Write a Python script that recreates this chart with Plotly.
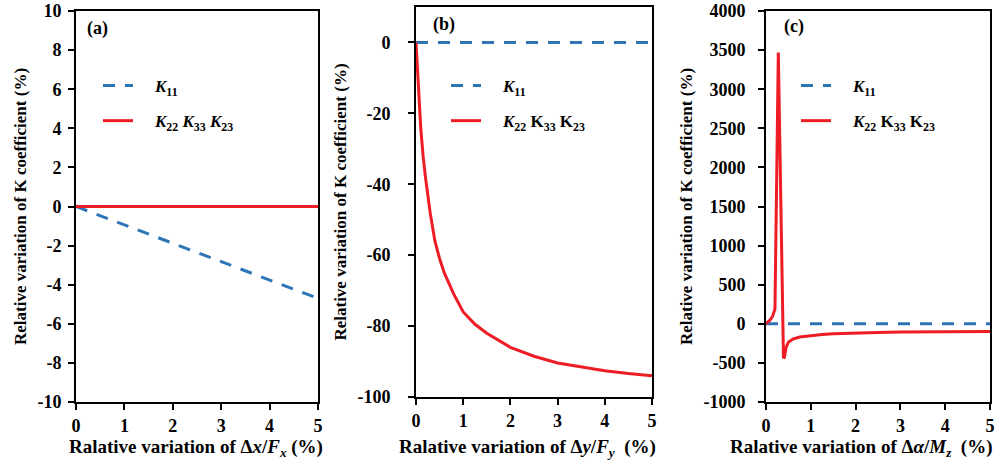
import plotly.graph_objects as go

# ---------------- data ----------------
x_a = [0, 1, 2, 3, 4, 5]
k11_a = [0, -0.94, -1.88, -2.82, -3.76, -4.7]
k22_a = [0, 0, 0, 0, 0, 0]

x_b_k11 = [0, 5]
k11_b = [0, 0]
x_b = [0, 0.05, 0.1, 0.15, 0.2, 0.3, 0.4, 0.5, 0.6, 0.8, 1.0, 1.25, 1.5, 2.0, 2.5, 3.0, 3.5, 4.0, 4.5, 5.0]
k22_b = [0, -13, -24, -32, -38, -48, -56, -61, -65, -71, -76, -79.5, -82, -86, -88.5, -90.4, -91.6, -92.6, -93.4, -94]

x_c_k11 = [0, 5]
k11_c = [0, 0]
x_c = [0, 0.05, 0.1, 0.15, 0.18, 0.2, 0.275, 0.39, 0.41, 0.45, 0.5, 0.6, 0.75, 1.0, 1.25, 1.5, 2.0, 2.5, 3.0, 3.5, 4.0, 4.5, 5.0]
k22_c = [0, 25, 55, 100, 150, 190, 3470, -440, -430, -300, -235, -195, -170, -150, -138, -128, -117, -110, -106, -103, -101, -99, -97]

x_ticks = [0, 1, 2, 3, 4, 5]
y_ticks_a = [-10, -8, -6, -4, -2, 0, 2, 4, 6, 8, 10]
y_ticks_b = [-100, -80, -60, -40, -20, 0]
y_ticks_c = [-1000, -500, 0, 500, 1000, 1500, 2000, 2500, 3000, 3500, 4000]
panel_labels = ["(a)", "(b)", "(c)"]

PAD = "\u3000"
name_k11 = PAD + "<i>K</i><sub>11</sub>"
name_k22_a = PAD + "<i>K</i><sub>22</sub> <i>K</i><sub>33</sub> <i>K</i><sub>23</sub>"
name_k22_bc = PAD + "<i>K</i><sub>22</sub> K<sub>33</sub> K<sub>23</sub>"

x_titles = [
    "Ralative variation of Δ<i>x</i>/<i>F<sub>x</sub></i> (%)",
    "Ralative variation of Δ<i>y</i>/<i>F<sub>y</sub></i> &nbsp;(%)",
    "Ralative variation of Δ<i>α</i>/<i>M<sub>z</sub></i> &nbsp;(%)",
]
y_title = "Relative variation of K coefficient (%)"

# ---------------- style ----------------
BLUE = "#2E75B6"
RED = "#EE1C25"
FONT = "Liberation Serif"
W, H = 997, 464

def f(size):
    return dict(family=FONT, size=size, color="black", weight="bold")

fig = go.Figure()

def add_panel(n, xk11, yk11, xk22, yk22, k22name):
    ax = "" if n == 1 else str(n)
    lg = "legend" if n == 1 else f"legend{n}"
    fig.add_trace(go.Scatter(x=xk11, y=yk11, mode="lines", name=name_k11, legend=lg,
                             legendgroup=f"g{n}a", xaxis="x" + ax, yaxis="y" + ax,
                             line=dict(color=BLUE, width=3, dash="12px,10px")))
    fig.add_trace(go.Scatter(x=xk22, y=yk22, mode="lines", name=k22name, legend=lg,
                             legendgroup=f"g{n}b", xaxis="x" + ax, yaxis="y" + ax,
                             line=dict(color=RED, width=3)))

add_panel(1, x_a, k11_a, x_a, k22_a, name_k22_a)
add_panel(2, x_b_k11, k11_b, x_b, k22_b, name_k22_bc)
add_panel(3, x_c_k11, k11_c, x_c, k22_c, name_k22_bc)

def px_x(a, b):
    return [a / W, b / W]

def px_y(top, bottom):
    return [1 - bottom / H, 1 - top / H]

axis_common = dict(showline=True, linecolor="black", linewidth=2, mirror=True,
                   ticks="outside", ticklen=6, tickwidth=2, tickcolor="black",
                   showgrid=False, zeroline=False, automargin=False,
                   tickfont=f(18))

xdoms = [px_x(76, 318), px_x(416, 652), px_x(766, 990)]
ydoms = [px_y(11, 402), px_y(7, 397), px_y(11, 402)]
yranges = [[-10, 10], [-100, 10], [-1000, 4000]]
yticks = [y_ticks_a, y_ticks_b, y_ticks_c]
ystandoff = [3, 14, 9]
xtitle_centers = [196, 527, 861]

layout = dict(width=W, height=H, margin=dict(l=0, r=0, t=0, b=0),
              paper_bgcolor="white", plot_bgcolor="white", font=f(17))
for i in range(3):
    ax = "" if i == 0 else str(i + 1)
    layout["xaxis" + ax] = dict(axis_common, domain=xdoms[i], range=[0, 5], tickvals=x_ticks,
                                ticktext=[str(v) for v in x_ticks], anchor="y" + ax)
    layout["yaxis" + ax] = dict(axis_common, domain=ydoms[i], range=yranges[i],
                                tickvals=yticks[i], ticktext=[str(v) for v in yticks[i]],
                                anchor="x" + ax, ticklabelstandoff=ystandoff[i],
                                title=dict(text=y_title, standoff=6, font=f(17)))

leg_pos = [(98, 68), (446, 68), (796, 68)]
for i, (lx, ly) in enumerate(leg_pos):
    key = "legend" if i == 0 else f"legend{i + 1}"
    layout[key] = dict(x=lx / W, y=1 - ly / H, xanchor="left", yanchor="top",
                       bgcolor="rgba(0,0,0,0)", traceorder="grouped", tracegroupgap=10,
                       font=f(17))

fig.update_layout(**layout)

label_pos = [(0.037, 0.955), (0.063, 0.955), (0.071, 0.96)]
for i, (lx, ly) in enumerate(label_pos):
    ax = "" if i == 0 else str(i + 1)
    fig.add_annotation(text=panel_labels[i], xref=f"x{ax} domain", yref=f"y{ax} domain",
                       x=lx, y=ly, xanchor="left", yanchor="middle", showarrow=False,
                       font=f(18))

for i, cx in enumerate(xtitle_centers):
    fig.add_annotation(text=x_titles[i], xref="paper", yref="paper",
                       x=cx / W, y=1 - 448 / H, xanchor="center", yanchor="middle",
                       showarrow=False, font=f(19))

fig.write_html("out.html", config={"displayModeBar": False},
               post_script="document.body.style.margin='0';")
